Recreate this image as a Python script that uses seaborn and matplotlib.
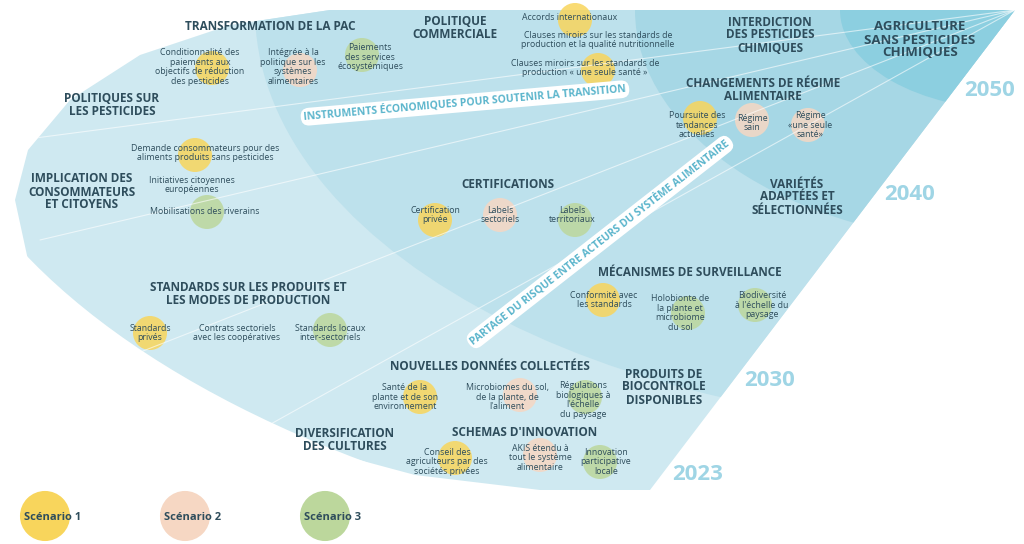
import matplotlib.pyplot as plt
import seaborn as sns
import pandas as pd
from matplotlib.patches import Polygon, Ellipse

sns.set_theme(style="white")
plt.rcParams['font.family'] = ['Open Sans', 'DejaVu Sans']

DARK = "#2e4d5c"

# outline of the fan shape
outline = [(330, 10), (230, 25), (140, 55), (70, 100), (28, 150), (15, 200), (28, 260),
           (75, 320), (165, 385), (285, 440), (415, 475), (540, 490), (650, 490), (1015, 10)]

# time zones (year, rx, ry, colour)
zone_years = ["2023", "2030", "2040", "2050"]
zone_rx = [1100, 760, 380, 175]
zone_ry = [560, 420, 235, 100]
zone_colors = ["#cfe9f1", "#bde1ec", "#a6d7e5", "#8ccfe0"]
year_pos = [(698, 475), (770, 380), (910, 195), (990, 90)]

headers = ["TRANSFORMATION DE LA PAC", "POLITIQUE\nCOMMERCIALE", "INTERDICTION\nDES PESTICIDES\nCHIMIQUES",
           "AGRICULTURE\nSANS PESTICIDES\nCHIMIQUES", "POLITIQUES SUR\nLES PESTICIDES",
           "CHANGEMENTS DE RÉGIME\nALIMENTAIRE", "IMPLICATION DES\nCONSOMMATEURS\nET CITOYENS",
           "CERTIFICATIONS", "VARIÉTÉS\nADAPTÉES ET\nSÉLECTIONNÉES",
           "STANDARDS SUR LES PRODUITS ET\nLES MODES DE PRODUCTION", "MÉCANISMES DE SURVEILLANCE",
           "NOUVELLES DONNÉES COLLECTÉES", "PRODUITS DE\nBIOCONTROLE\nDISPONIBLES",
           "DIVERSIFICATION\nDES CULTURES", "SCHEMAS D'INNOVATION"]
header_pos = [(270, 27), (455, 28), (770, 35), (920, 40), (112, 105), (763, 90), (82, 192),
              (508, 185), (797, 197), (248, 294), (690, 273), (490, 366), (664, 387), (345, 440), (525, 432)]
header_size = [8.5, 8.5, 8.5, 9.5, 8.5, 8.5, 8.5, 8.5, 8.5, 8.5, 8.5, 8.5, 8.5, 8.5, 8.5]

items = ["Conditionnalité des\npaiements aux\nobjectifs de réduction\ndes pesticides",
         "Intégrée à la\npolitique sur les\nsystèmes\nalimentaires",
         "Paiements\ndes services\nécosystémiques", "Accords internationaux",
         "Clauses miroirs sur les standards de\nproduction et la qualité nutritionnelle",
         "Clauses miroirs sur les standards de\nproduction « une seule santé »",
         "Poursuite des\ntendances\nactuelles", "Régime\nsain", "Régime\n«une seule\nsanté»",
         "Demande consommateurs pour des\naliments produits sans pesticides",
         "Initiatives citoyennes\neuropéennes", "Mobilisations des riverains",
         "Certification\nprivée", "Labels\nsectoriels", "Labels\nterritoriaux",
         "Standards\nprivés", "Contrats sectoriels\navec les coopératives", "Standards locaux\ninter-sectoriels",
         "Conformité avec\nles standards", "Holobionte de\nla plante et\nmicrobiome\ndu sol",
         "Biodiversité\nà l'échelle du\npaysage", "Santé de la\nplante et de son\nenvironnement",
         "Microbiomes du sol,\nde la plante, de\nl'aliment", "Régulations\nbiologiques à\nl'échelle\ndu paysage",
         "Conseil des\nagriculteurs par des\nsociétés privées", "AKIS étendu à\ntout le système\nalimentaire",
         "Innovation\nparticipative\nlocale"]
item_pos = [(200, 67), (293, 67), (370, 57), (570, 18), (598, 40), (585, 68), (697, 125), (752, 123),
            (810, 125), (205, 153), (192, 185), (205, 211), (435, 215), (500, 215), (572, 215),
            (150, 333), (237, 333), (330, 333), (604, 300), (680, 313), (762, 305), (405, 397),
            (507, 397), (583, 400), (447, 462), (540, 458), (606, 462)]

# scenario blobs behind items
blob_x = [212, 575, 598, 700, 195, 435, 150, 603, 420, 455,
          752, 808, 500, 520, 540, 300,
          362, 207, 575, 330, 755, 585, 600, 688]
blob_y = [68, 20, 70, 118, 155, 220, 333, 300, 397, 458,
          120, 125, 215, 395, 455, 70,
          55, 212, 220, 330, 305, 397, 462, 313]
blob_scen = ["Scénario 1"] * 10 + ["Scénario 2"] * 6 + ["Scénario 3"] * 8
scen_colors = {"Scénario 1": "#f8d55c", "Scénario 2": "#f6d7c3", "Scénario 3": "#bcd79c"}
legend_x = [45, 185, 325]

fig = plt.figure(figsize=(10.24, 5.44), dpi=100)
ax = fig.add_axes([0, 0, 1, 1])
ax.set_xlim(0, 1024)
ax.set_ylim(544, 0)
ax.axis("off")

shape = Polygon(outline, closed=True, facecolor="none", edgecolor="none")
ax.add_patch(shape)
for rx, ry, c in zip(zone_rx, zone_ry, zone_colors):
    e = Ellipse((1015, 10), 2 * rx, 2 * ry, facecolor=c, edgecolor="none")
    ax.add_patch(e)
    e.set_clip_path(shape)

# faint radiating lines
for (x0, y0) in [(20, 140), (40, 240), (120, 360), (260, 430)]:
    ln, = ax.plot([x0, 1015], [y0, 10], color="white", lw=0.8, alpha=0.6)
    ln.set_clip_path(shape)

for yr, (x, y) in zip(zone_years, year_pos):
    ax.text(x, y, yr, color="#9fd5e5", fontsize=16, fontweight="bold", ha="center", va="center")

df = pd.DataFrame({"x": blob_x, "y": blob_y, "scen": blob_scen})
sns.scatterplot(data=df, x="x", y="y", hue="scen", palette=scen_colors, s=600, alpha=0.85,
                linewidth=0, legend=False, ax=ax)
leg = pd.DataFrame({"x": legend_x, "y": [516] * 3, "scen": list(scen_colors)})
sns.scatterplot(data=leg, x="x", y="y", hue="scen", palette=scen_colors, s=1300,
                linewidth=0, legend=False, ax=ax)
ax.set_xlim(0, 1024)
ax.set_ylim(544, 0)
ax.set_xlabel("")
ax.set_ylabel("")
for lx, s in zip(legend_x, scen_colors):
    ax.text(lx + 8, 517, s, color=DARK, fontsize=8, fontweight="bold", ha="center", va="center")

for t, (x, y), fs in zip(headers, header_pos, header_size):
    ax.text(x, y, t, color=DARK, fontsize=fs, fontweight="bold", ha="center", va="center",
            linespacing=1.0)
for t, (x, y) in zip(items, item_pos):
    ax.text(x, y, t, color=DARK, fontsize=6.3, ha="center", va="center", linespacing=1.05)

box = dict(boxstyle="round,pad=0.3,rounding_size=0.8", fc="white", ec="none")
ax.text(465, 103, "INSTRUMENTS ÉCONOMIQUES POUR SOUTENIR LA TRANSITION", color="#5bb5cc",
        fontsize=7.5, fontweight="bold", rotation=5, ha="center", va="center", bbox=box)
ax.text(600, 242, "PARTAGE DU RISQUE ENTRE ACTEURS DU SYSTÈME ALIMENTAIRE", color="#5bb5cc",
        fontsize=7.5, fontweight="bold", rotation=38, ha="center", va="center", bbox=box,
        rotation_mode="anchor")

fig.savefig("out.png", dpi=100)
